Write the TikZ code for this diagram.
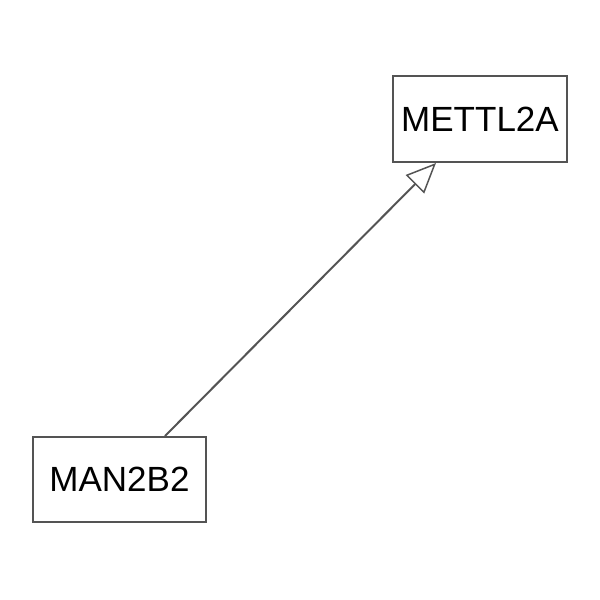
\documentclass[tikz,border=0pt]{standalone}
\usepackage{fontspec}
\setmainfont{Liberation Sans}
\usetikzlibrary{arrows.meta}

\begin{document}
\begin{tikzpicture}[x=1pt, y=-1pt,
    gene/.style = {draw=black!67, line width=2pt, fill=white, minimum width=174pt, minimum height=86pt, inner sep=0pt, font=\fontsize{35}{40}\selectfont},
    ar/.style = {draw=black!67, line width=2pt, -{Triangle[open, length=30pt, width=26pt, line width=1.5pt]}}]
        \useasboundingbox (0,0) rectangle (600,600);

        \node[gene] (mettl2a) at (480, 119) {METTL2A};
        \node[gene, minimum width=173pt, minimum height=85pt] (man2b2) at (119.5, 479.5) {MAN2B2};

        \draw[ar] ([xshift=45.5pt]man2b2.north) -- ([xshift=-44pt]mettl2a.south);
\end{tikzpicture}
\end{document}
